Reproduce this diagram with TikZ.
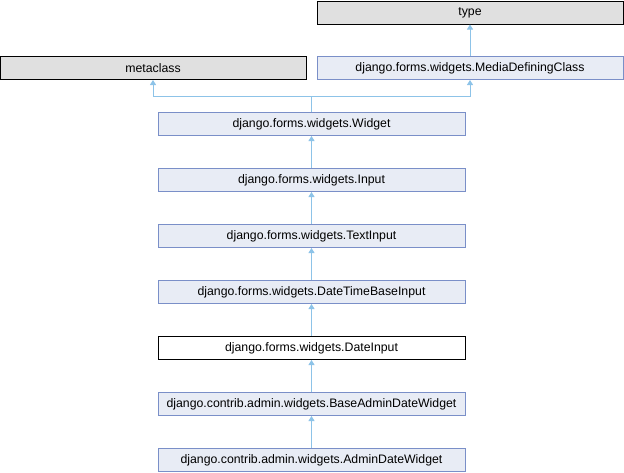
\documentclass[tikz,border=0pt]{standalone}
\usepackage{fontspec}
\setmainfont{Liberation Sans}
\usepackage{tikz}
\usetikzlibrary{arrows.meta,positioning}
\definecolor{dfill}{HTML}{E8ECF5}
\definecolor{ddraw}{HTML}{7A8FC8}
\definecolor{dgray}{HTML}{E0E0E0}
\definecolor{dedge}{HTML}{8DC3E8}
\tikzset{
  dbox/.style={
    draw=ddraw, line width=1pt, fill=dfill, text=black,
    minimum width=307pt, minimum height=23pt, inner sep=0pt,
    font=\fontsize{12.3}{14}\selectfont},
  dext/.style={dbox, draw=black, fill=dgray, minimum width=306pt},
  dcur/.style={dbox, draw=black, fill=white},
  dflow/.style={{Triangle[length=5pt,width=6pt]}-, draw=dedge,
    line width=1pt},
}
\begin{document}
\begin{tikzpicture}[x=1pt,y=-1pt]
\useasboundingbox (0,0) rectangle (624,472);

\node[dext] (type) at (470,12.5) {type};
\node[dext] (meta) at (153,68) {metaclass};
\node[dbox,minimum width=306pt] (media) at (470,68) {django.forms.widgets.MediaDefiningClass};

\node[dbox] (widget) at (311.5,124) {django.forms.widgets.Widget};
\node[dbox] (input)  at (311.5,180) {django.forms.widgets.Input};
\node[dbox] (text)   at (311.5,236) {django.forms.widgets.TextInput};
\node[dbox] (dtbase) at (311.5,292) {django.forms.widgets.DateTimeBaseInput};
\node[dcur] (date)   at (311.5,348) {django.forms.widgets.DateInput};
\node[dbox] (badmin) at (311.5,404) {django.contrib.admin.widgets.BaseAdminDateWidget};
\node[dbox] (admin)  at (311.5,460) {django.contrib.admin.widgets.AdminDateWidget};

\coordinate (split) at (311.5,96.5);

\foreach \a/\b in {type/media, widget/input, input/text, text/dtbase,
                   dtbase/date, date/badmin, badmin/admin}
  \draw[dflow] (\a.south) -- (\b.north);
\draw[dflow] (meta.south) |- (split) -- (widget.north);
\draw[dflow] (media.south) |- (split);

\end{tikzpicture}
\end{document}
